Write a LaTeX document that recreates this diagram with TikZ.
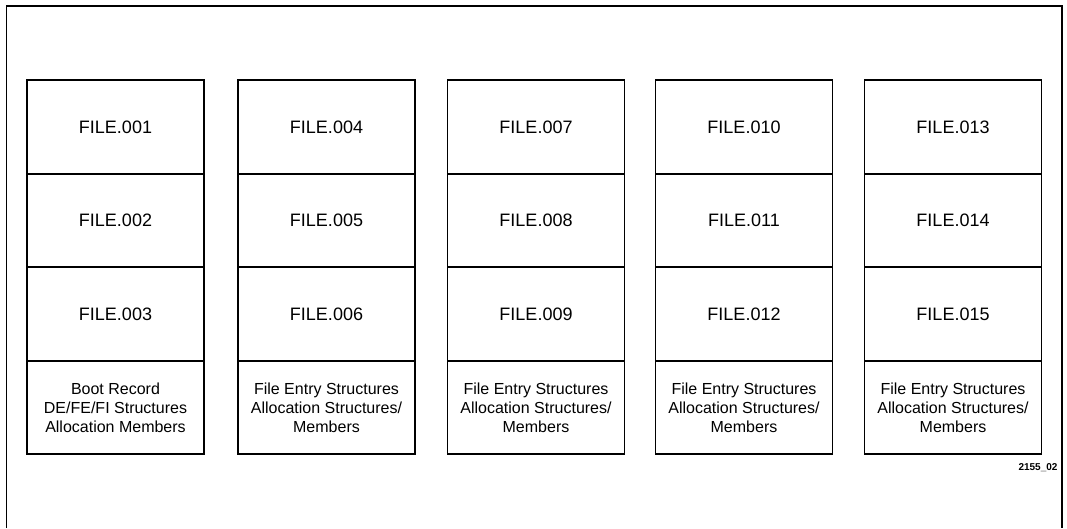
\documentclass[tikz,border=0pt]{standalone}
\usepackage{fontspec}
\setmainfont{Liberation Sans}
\begin{document}
\begin{tikzpicture}[x=1pt,y=1pt,
  cell/.style={draw=black,line width=1.7pt,minimum width=177pt,minimum height=93.5pt,inner sep=0pt,outer sep=0pt,align=center,font=\fontsize{18}{21}\selectfont},
  basecell/.style={cell,font=\fontsize{16}{19}\selectfont},
  tag/.style={font=\bfseries\fontsize{10}{12}\selectfont,inner sep=0pt}]
\useasboundingbox (0,0) rectangle (1067,528);
\draw[line width=1.5pt] (6.5,0) -- (6.5,522) -- (1062,522) -- (1062,0);
% columns
\foreach \c/\x/\a/\b/\d in {1/115.5/001/002/003, 2/326.5/004/005/006, 3/536/007/008/009, 4/744/010/011/012, 5/953/013/014/015}{
  \node[cell] (f\a) at (\x,401) {FILE.\a};
  \node[cell] (f\b) at (\x,307.5) {FILE.\b};
  \node[cell] (f\d) at (\x,214) {FILE.\d};
}
\node[basecell] (s1) at (115.5,120.5) {Boot Record\\DE/FE/FI Structures\\Allocation Members};
\node[basecell] (s2) at (326.5,120.5) {File Entry Structures\\Allocation Structures/\\Members};
\node[basecell] (s3) at (536,120.5) {File Entry Structures\\Allocation Structures/\\Members};
\node[basecell] (s4) at (744,120.5) {File Entry Structures\\Allocation Structures/\\Members};
\node[basecell] (s5) at (953,120.5) {File Entry Structures\\Allocation Structures/\\Members};
\node[tag] (id) at (1038,60) {2155\_02};
\end{tikzpicture}
\end{document}
